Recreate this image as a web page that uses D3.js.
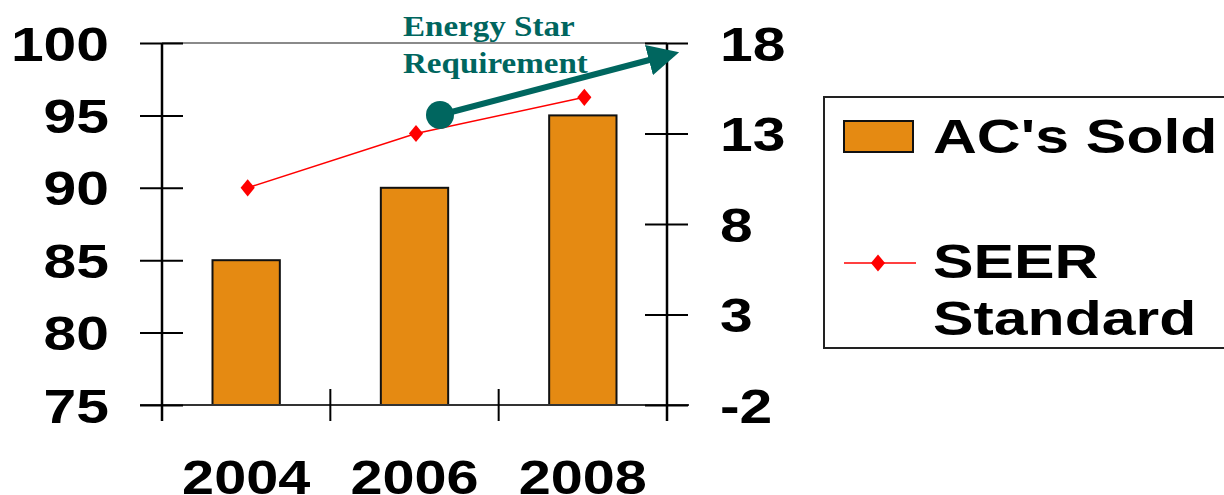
<!DOCTYPE html>
<html><head><meta charset="utf-8">
<script src="https://cdn.jsdelivr.net/npm/d3@7"></script>
<style>html,body{margin:0;padding:0;background:#fff;overflow:hidden}</style>
</head><body>
<svg id="chart" width="1224" height="495"></svg>
<script>
const years = ["2004", "2006", "2008"];
const acSold = [85, 90, 95];
const seer = [10, 13, 15];
const leftTicks = [75, 80, 85, 90, 95, 100];
const rightTicks = [-2, 3, 8, 13, 18];
const legendLabels = ["AC's Sold", ["SEER", "Standard"]];
const annotationLines = ["Energy Star", "Requirement"];

const svg = d3.select("#chart");
const plot = {left: 162, right: 667, top: 43, bottom: 405};
const BAR = "#E58A12", RED = "#FF0000", TEAL = "#00665F";
const FONT = "'Liberation Sans', Arial, sans-serif";
const SX = 1.2;

const x = d3.scaleBand().domain(years).range([plot.left, plot.right]).paddingInner(0.6).paddingOuter(0.3);
const xCat = d3.scaleBand().domain(years).range([plot.left, plot.right]).padding(0);
const yL = d3.scaleLinear().domain([75, 100]).range([plot.bottom, plot.top]);
const yR = d3.scaleLinear().domain([-2, 18]).range([plot.bottom, plot.top]);

// top border of plot area
svg.append("line").attr("x1", plot.left).attr("x2", plot.right)
  .attr("y1", yL(100)).attr("y2", yL(100)).attr("stroke", "#8a8a8a").attr("stroke-width", 2);

// bars
svg.append("g").selectAll("rect").data(years).join("rect")
  .attr("x", d => x(d)).attr("width", x.bandwidth())
  .attr("y", (d, i) => yL(acSold[i])).attr("height", (d, i) => yL(75) - yL(acSold[i]))
  .attr("fill", BAR).attr("stroke", "#111").attr("stroke-width", 2);

// bottom axis
const gx = svg.append("g").attr("transform", `translate(0,${plot.bottom})`)
  .call(d3.axisBottom(xCat).tickSize(16).tickFormat(""));
gx.select(".domain").attr("stroke", "#333").attr("stroke-width", 2).attr("d", `M${plot.left - 22},0H${plot.right + 22}`);
gx.selectAll(".tick").remove();
const bounds = [plot.left].concat(years.map(d => xCat(d) + xCat.step()));
svg.append("g").selectAll("line").data(bounds).join("line")
  .attr("x1", d => d).attr("x2", d => d).attr("y1", plot.bottom - 16).attr("y2", plot.bottom + 16)
  .attr("stroke", "#000").attr("stroke-width", 2);
svg.append("g").selectAll("text").data(years).join("text")
  .attr("transform", d => `translate(${xCat(d) + xCat.step() / 2},494) scale(${SX},1)`)
  .attr("text-anchor", "middle").attr("font-family", FONT).attr("font-weight", "bold")
  .attr("font-size", 48).attr("fill", "#000").text(d => d);

// left axis
const gl = svg.append("g").attr("transform", `translate(${plot.left},0)`)
  .call(d3.axisLeft(yL).tickValues(leftTicks).tickSize(22).tickFormat(d => String(d)));
gl.select(".domain").attr("d", `M0,${plot.top}V${plot.bottom + 16}`).attr("stroke", "#000").attr("stroke-width", 2.5);
gl.selectAll(".tick line").attr("x1", 21).attr("stroke", "#000").attr("stroke-width", 2);
gl.selectAll(".tick text").attr("x", null)
  .attr("transform", `translate(-53,0) scale(${SX},1)`)
  .attr("font-family", FONT).attr("font-weight", "bold").attr("font-size", 49).attr("fill", "#000").attr("dy", "0.35em");

// right axis
const gr = svg.append("g").attr("transform", `translate(${plot.right},0)`)
  .call(d3.axisRight(yR).tickValues(rightTicks).tickSize(21).tickFormat(d => String(d)));
gr.select(".domain").attr("d", `M0,${plot.top}V${plot.bottom + 16}`).attr("stroke", "#000").attr("stroke-width", 2.5);
gr.selectAll(".tick line").attr("x1", -22).attr("stroke", "#000").attr("stroke-width", 2);
gr.selectAll(".tick text").attr("x", null)
  .attr("transform", `translate(53,0) scale(${SX},1)`).attr("text-anchor", "start")
  .attr("font-family", FONT).attr("font-weight", "bold").attr("font-size", 49).attr("fill", "#000").attr("dy", "0.35em");

// SEER line
const cx = (d) => x(d) + x.bandwidth() / 2 + 1.5;
const line = d3.line().x((d, i) => cx(years[i])).y(d => yR(d));
svg.append("path").datum(seer).attr("d", line).attr("fill", "none").attr("stroke", RED).attr("stroke-width", 1.5);
const diamond = d3.symbol().type(d3.symbolDiamond).size(95);
svg.append("g").selectAll("path").data(seer).join("path")
  .attr("d", diamond).attr("transform", (d, i) => `translate(${cx(years[i])},${yR(d)}) scale(1.35,0.95)`)
  .attr("fill", RED);

// Energy Star annotation
const ann = svg.append("g");
ann.selectAll("text").data(annotationLines).join("text")
  .attr("transform", (d, i) => `translate(403,${36 + i * 37}) scale(1.14,1)`)
  .attr("font-family", "'Liberation Serif', 'Times New Roman', serif").attr("font-weight", "bold")
  .attr("font-size", 29).attr("fill", TEAL).text(d => d);
const defs = svg.append("defs");
defs.append("marker").attr("id", "ah").attr("viewBox", "0 0 10 10").attr("refX", 2).attr("refY", 5)
  .attr("markerWidth", 5.2).attr("markerHeight", 5.2).attr("markerUnits", "strokeWidth").attr("orient", "auto")
  .append("path").attr("d", "M0,0L10,5L0,10Z").attr("fill", TEAL);
svg.append("line").attr("x1", 440).attr("y1", 115).attr("x2", 655).attr("y2", 58.5)
  .attr("stroke", TEAL).attr("stroke-width", 6).attr("marker-end", "url(#ah)");
svg.append("circle").attr("cx", 440).attr("cy", 115).attr("r", 14).attr("fill", TEAL);

// legend
const lg = svg.append("g");
lg.append("rect").attr("x", 824).attr("y", 97).attr("width", 430).attr("height", 251)
  .attr("fill", "#fff").attr("stroke", "#222").attr("stroke-width", 2);
lg.append("rect").attr("x", 844).attr("y", 121).attr("width", 69).attr("height", 31)
  .attr("fill", BAR).attr("stroke", "#111").attr("stroke-width", 2);
lg.append("line").attr("x1", 844).attr("x2", 916).attr("y1", 263).attr("y2", 263).attr("stroke", RED).attr("stroke-width", 1.5);
lg.append("path").attr("d", diamond).attr("transform", "translate(878,263) scale(1.35,0.95)").attr("fill", RED);
const legText = (t, y) => lg.append("text").attr("transform", `translate(933,${y}) scale(1.24,1)`)
  .attr("font-family", FONT).attr("font-weight", "bold").attr("font-size", 49).attr("fill", "#000").text(t);
legText(legendLabels[0], 153);
legText(legendLabels[1][0], 278);
legText(legendLabels[1][1], 335);
</script>
</body></html>
